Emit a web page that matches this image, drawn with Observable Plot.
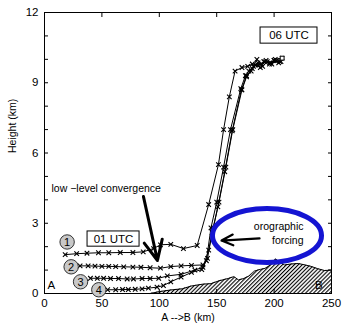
<!DOCTYPE html>
<html>
<head>
<meta charset="utf-8">
<script src="https://cdn.jsdelivr.net/npm/d3@7"></script>
<script src="https://cdn.jsdelivr.net/npm/@observablehq/plot@0.6"></script>
<style>
  html, body { margin: 0; padding: 0; background: #fff; }
  #chart { width: 342px; height: 326px; }
</style>
</head>
<body>
<div id="chart"></div>
<script>
// ---- tick labels ----
const xTicks = [0, 50, 100, 150, 200, 250];
const yTicks = [0, 3, 6, 9, 12];
const yMinorTicks = [0, 1, 2, 3, 4, 5, 6, 7, 8, 9, 10, 11, 12];

// ---- trajectory 1 ----
const traj1X = [18, 28, 37, 47, 56, 66, 77, 86, 95, 101, 110, 121, 133, 143, 151.5, 156, 161, 166, 172, 177, 181, 186, 191, 196, 200, 205];
const traj1Y = [1.66, 1.7, 1.72, 1.74, 1.74, 1.75, 1.75, 1.78, 1.92, 2.08, 2.1, 1.92, 2.05, 3.8, 5.5, 7.0, 8.4, 9.5, 9.65, 9.7, 9.8, 9.75, 9.9, 9.85, 9.95, 9.9];
// ---- trajectory 2 ----
const traj2X = [31, 38, 44, 50, 56, 62, 69, 77, 84, 92, 101, 110, 119, 128, 138, 141, 145, 150, 156, 162, 171, 175, 178, 182, 186, 190, 194, 198, 202, 206];
const traj2Y = [1.18, 1.18, 1.17, 1.16, 1.16, 1.15, 1.14, 1.13, 1.12, 1.1, 1.08, 1.15, 1.18, 1.2, 1.22, 1.4, 2.8, 3.9, 5.4, 7.0, 8.75, 9.3, 9.5, 9.7, 9.85, 9.7, 9.9, 9.8, 9.95, 9.9];
// ---- trajectory 3 ----
const traj3X = [40, 46, 51.5, 57.5, 64.5, 72, 77.5, 85, 92, 99.5, 107, 119, 131, 138, 143, 147, 152, 158, 164, 172, 176, 180, 184, 188, 192, 196, 200, 204];
const traj3Y = [0.65, 0.65, 0.65, 0.64, 0.64, 0.62, 0.62, 0.64, 0.64, 0.65, 0.75, 0.82, 1.0, 1.12, 1.85, 2.8, 3.9, 5.4, 7.0, 8.7, 9.25, 9.5, 9.75, 9.65, 9.9, 9.8, 9.95, 9.85];
// ---- trajectory 4 ----
const traj4X = [55, 62, 68, 73, 79, 85, 90.5, 98, 103.6, 110, 119, 128, 137, 142, 146, 151, 157, 163.5, 171.5, 176, 181, 185, 189, 193, 197, 201, 207];
const traj4Y = [0.16, 0.16, 0.17, 0.17, 0.18, 0.2, 0.23, 0.27, 0.34, 0.5, 0.7, 0.9, 1.02, 1.5, 2.6, 3.7, 5.2, 6.95, 8.7, 9.3, 9.6, 10.0, 9.8, 9.95, 9.85, 10.0, 10.05];

// ---- terrain (km along A->B, height km) ----
const terrainX = [92, 100, 110, 120, 128, 138, 145, 152, 160, 165, 169, 173, 178, 183, 188, 192, 198, 201, 204, 209, 215, 221, 227, 232, 238, 244, 250];
const terrainY = [0, 0.08, 0.15, 0.2, 0.32, 0.4, 0.42, 0.54, 0.64, 0.72, 0.58, 0.63, 0.74, 0.96, 1.03, 1.07, 1.26, 1.48, 1.38, 1.22, 1.26, 1.28, 1.22, 1.16, 1.06, 0.98, 1.0];

// ---- circled trajectory labels ----
const labelNames = ["1", "2", "3", "4"];
const labelX = [19.7, 23.2, 31.4, 47.3];
const labelY = [2.2, 1.14, 0.5, 0.16];

const trajX = [traj1X, traj2X, traj3X, traj4X];
const trajY = [traj1Y, traj2Y, traj3Y, traj4Y];
const traj = trajX.flatMap((xs, k) => xs.map((x, i) => ({traj: k + 1, x, y: trajY[k][i]})));
const terrain = terrainX.map((x, i) => ({x, y: terrainY[i]}));
const labels = labelNames.map((t, i) => ({t, x: labelX[i], y: labelY[i]}));
const trajEnd = [traj[traj.length - 1]];

const font = "Liberation Sans, Arial, Helvetica, sans-serif";
const blank = () => "";

const plot = Plot.plot({
  width: 342,
  height: 326,
  marginLeft: 44,
  marginRight: 11,
  marginTop: 12,
  marginBottom: 33,
  style: {fontFamily: font, fontSize: "11px", color: "black", background: "white"},
  x: {domain: [0, 250], label: null},
  y: {domain: [0, 12], label: null},
  marks: [
    Plot.areaY(terrain, {x: "x", y: "y", fill: "url(#hatch)"}),
    Plot.lineY(terrain, {x: "x", y: "y", stroke: "black", strokeWidth: 1}),
    Plot.line(traj, {x: "x", y: "y", z: "traj", stroke: "black", strokeWidth: 1}),
    Plot.dot(traj, {x: "x", y: "y", symbol: "times", r: 2.2, stroke: "black", strokeWidth: 1.1}),
    Plot.dot(trajEnd, {x: "x", y: "y", symbol: "square", r: 2.2, fill: "white", stroke: "black", strokeWidth: 1}),
    Plot.frame({stroke: "black", strokeWidth: 1}),
    Plot.axisY(yMinorTicks, {anchor: "left", tickSize: -4, tickFormat: blank}),
    Plot.axisY(yMinorTicks, {anchor: "right", tickSize: -4, tickFormat: blank}),
    Plot.axisY(yTicks, {anchor: "left", tickSize: 0, tickPadding: 6, fontSize: 11.5}),
    Plot.axisX(xTicks, {anchor: "bottom", tickSize: -4, tickFormat: blank}),
    Plot.axisX(xTicks, {anchor: "top", tickSize: -4, tickFormat: blank}),
    Plot.axisX(xTicks, {anchor: "bottom", tickSize: 0, tickPadding: 5, fontSize: 11.5}),
    Plot.text(["Height (km)"], {frameAnchor: "left", rotate: -90, dx: -32, fontSize: 10.5}),
    Plot.text(["A -->B (km)"], {frameAnchor: "bottom", dy: 27, fontSize: 10.5}),
    // circled numbers
    Plot.dot(labels, {x: "x", y: "y", r: 7.2, fill: "#c8c8c8", stroke: "#333", strokeWidth: 1}),
    Plot.text(labels, {x: "x", y: "y", text: "t", fontSize: 11, dy: 0.5}),
    // UTC boxes
    Plot.rect([0], {x1: 37.5, x2: 82.8, y1: 2.0, y2: 2.65, fill: "white", stroke: "black", strokeWidth: 1}),
    Plot.text(["01 UTC"], {x: 60.1, y: 2.33, fontSize: 11.5}),
    Plot.rect([0], {x1: 188.2, x2: 237.8, y1: 10.67, y2: 11.36, fill: "white", stroke: "black", strokeWidth: 1}),
    Plot.text(["06 UTC"], {x: 213, y: 11.02, fontSize: 11.5}),
    // A / B
    Plot.text(["A"], {x: 2.6, y: 0.36, textAnchor: "start", fontSize: 11.5}),
    Plot.text(["B"], {x: 239, y: 0.34, fontSize: 11.5}),
    // annotations
    Plot.text(["low \u2212level convergence"], {x: 6.1, y: 4.48, textAnchor: "start", fontSize: 10.5}),
    Plot.arrow([0], {x1: 86.2, y1: 4.14, x2: 98.4, y2: 1.41, stroke: "black", strokeWidth: 3, headLength: 14, headAngle: 50}),
    Plot.text(["orographic"], {x: 225.6, y: 2.86, textAnchor: "end", fontSize: 10.5}),
    Plot.text(["forcing"], {x: 225.6, y: 2.27, textAnchor: "end", fontSize: 10.5}),
    Plot.arrow([0], {x1: 187.3, y1: 2.35, x2: 154.2, y2: 2.26, stroke: "black", strokeWidth: 2.2, headLength: 12, headAngle: 50})
  ]
});

// hatch pattern for terrain
const ns = "http://www.w3.org/2000/svg";
const defs = document.createElementNS(ns, "defs");
const pat = document.createElementNS(ns, "pattern");
pat.setAttribute("id", "hatch");
pat.setAttribute("patternUnits", "userSpaceOnUse");
pat.setAttribute("width", "2.8");
pat.setAttribute("height", "2.8");
pat.setAttribute("patternTransform", "rotate(45)");
const bg = document.createElementNS(ns, "rect");
bg.setAttribute("width", "2.8"); bg.setAttribute("height", "2.8"); bg.setAttribute("fill", "white");
const ln = document.createElementNS(ns, "line");
ln.setAttribute("x1", "0.5"); ln.setAttribute("y1", "0");
ln.setAttribute("x2", "0.5"); ln.setAttribute("y2", "2.8");
ln.setAttribute("stroke", "black"); ln.setAttribute("stroke-width", "1.2");
pat.appendChild(bg); pat.appendChild(ln);
defs.appendChild(pat);
plot.insertBefore(defs, plot.firstChild);

// blue ellipse (orographic forcing highlight), placed through the plot's scales
const sx = plot.scale("x"), sy = plot.scale("y");
const ecx = 194.25, ecy = 2.455, erx = 47.5, ery = 1.15;
const ell = document.createElementNS(ns, "ellipse");
ell.setAttribute("cx", sx.apply(ecx));
ell.setAttribute("cy", sy.apply(ecy));
ell.setAttribute("rx", sx.apply(ecx + erx) - sx.apply(ecx));
ell.setAttribute("ry", sy.apply(ecy) - sy.apply(ecy + ery));
ell.setAttribute("fill", "none");
ell.setAttribute("stroke", "#1414d2");
ell.setAttribute("stroke-width", "5");
plot.appendChild(ell);

document.getElementById("chart").appendChild(plot);
</script>
</body>
</html>
